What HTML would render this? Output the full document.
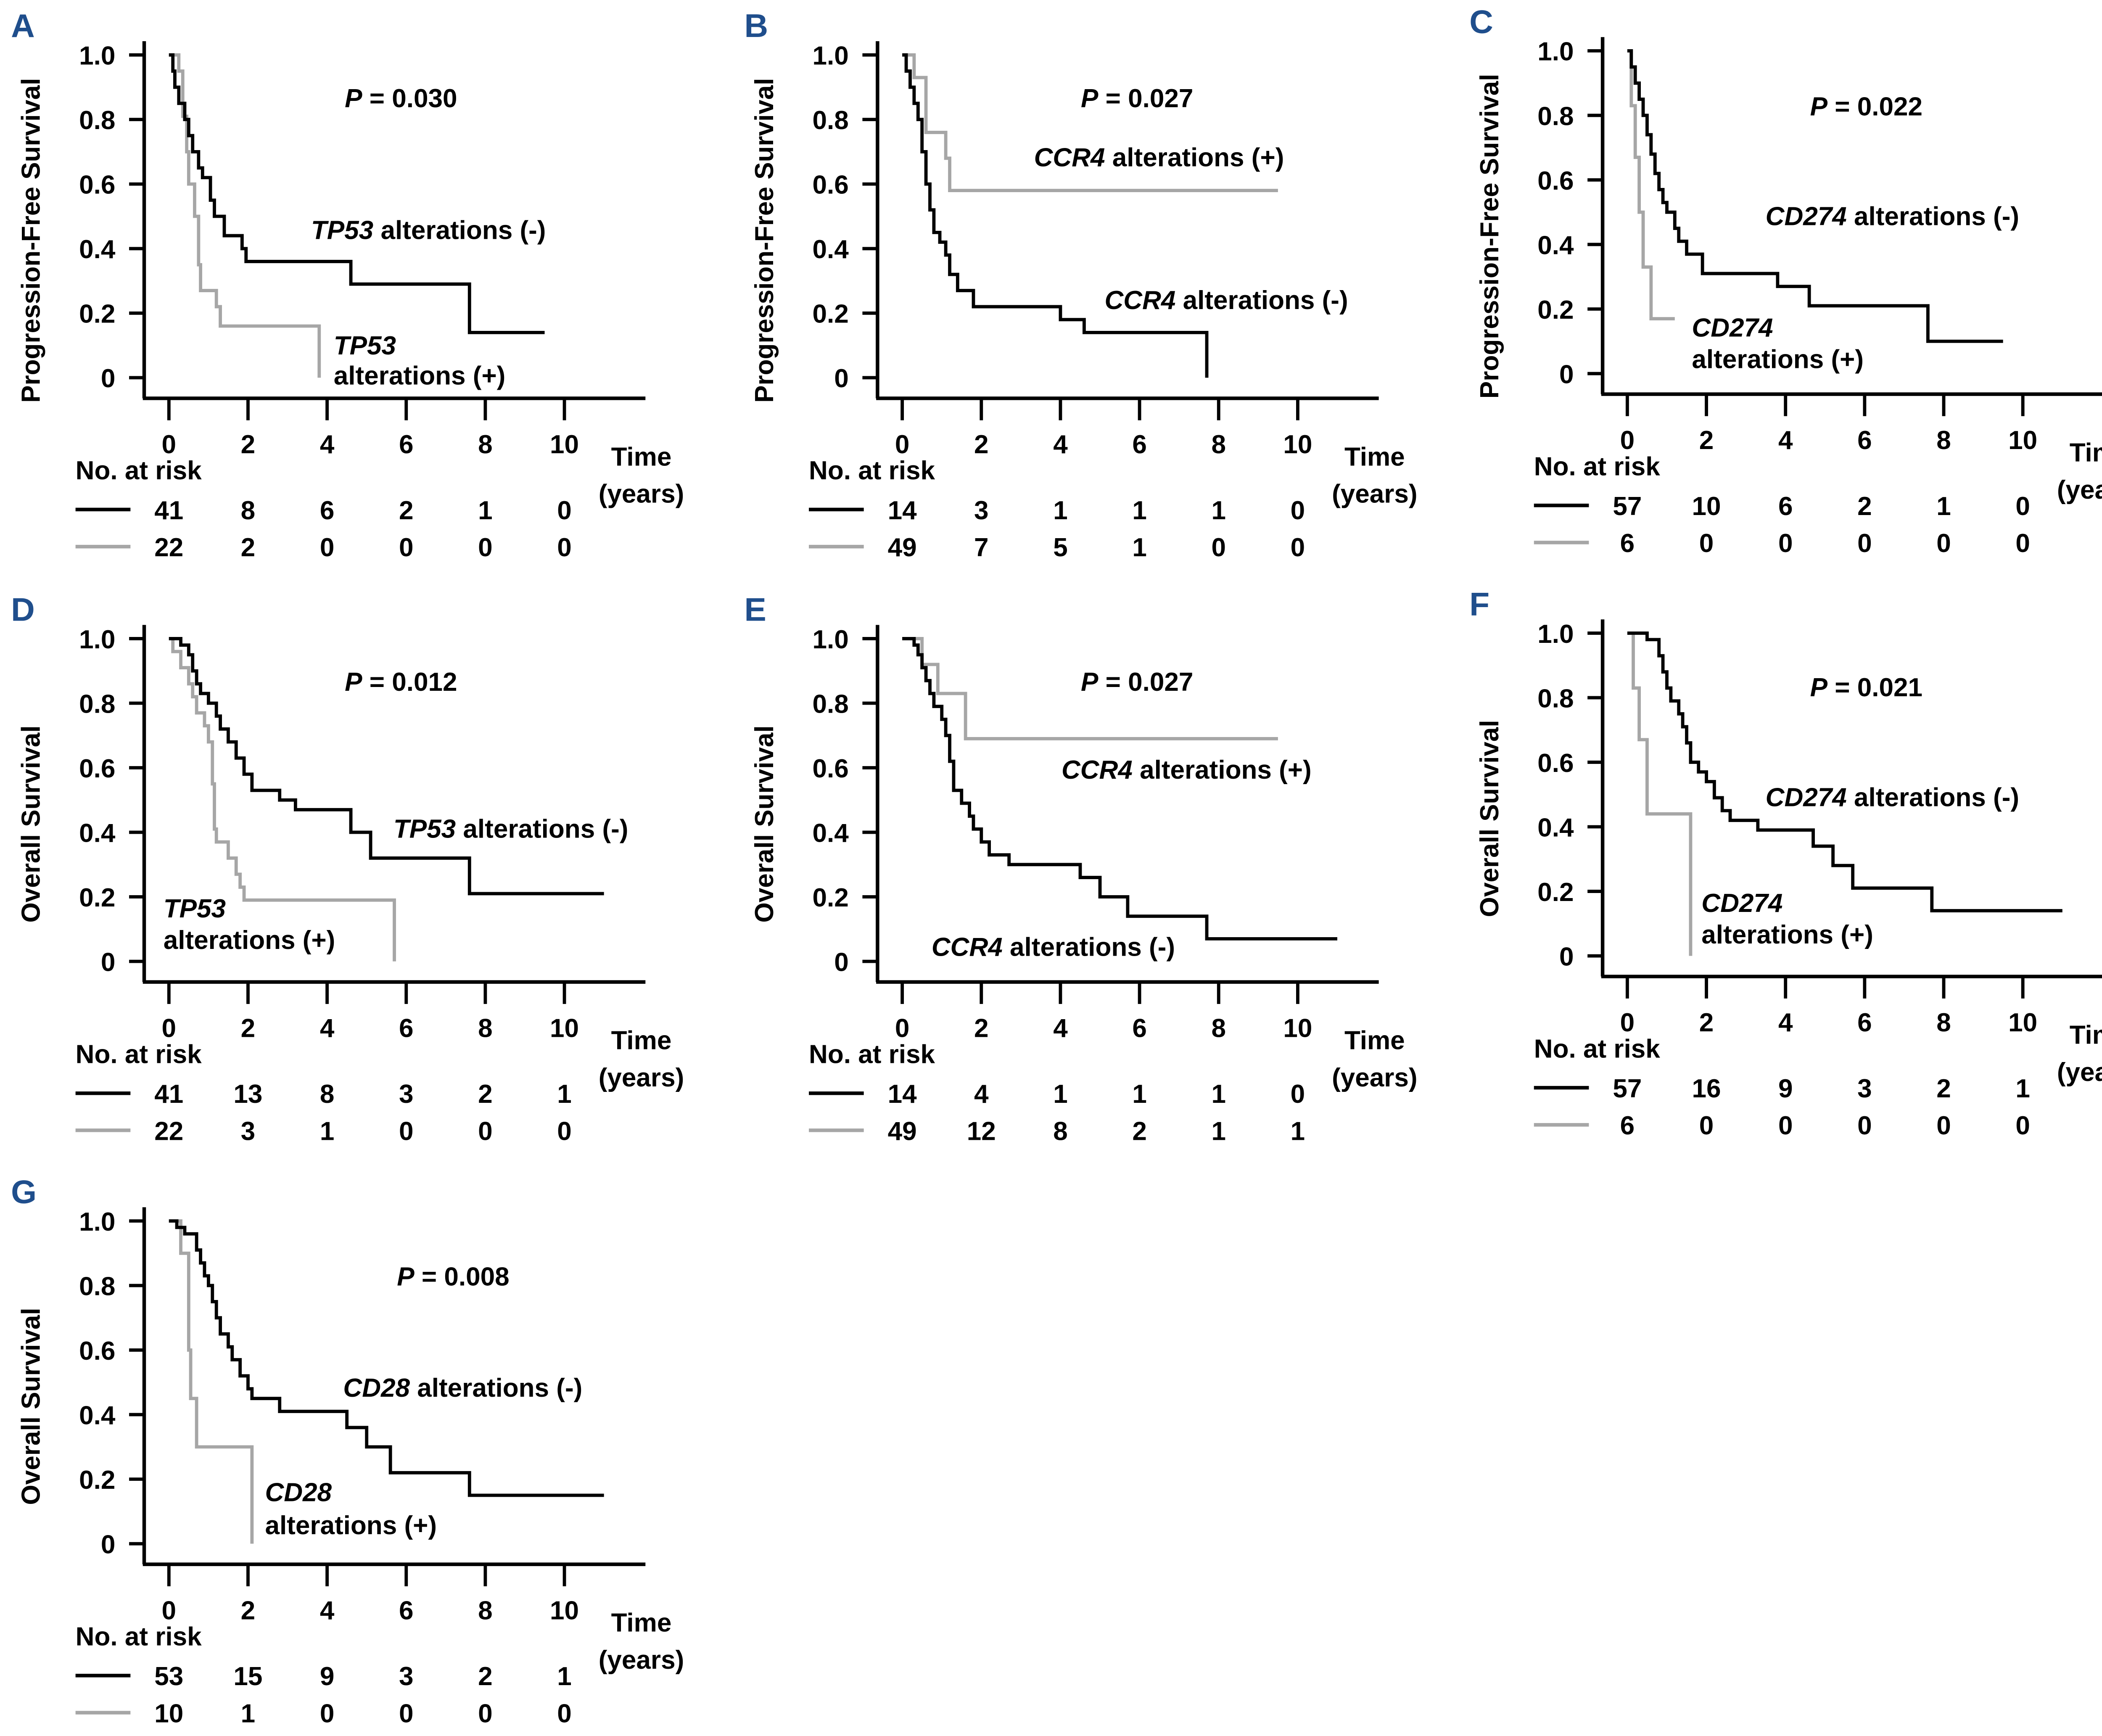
<!DOCTYPE html>
<html><head><meta charset="utf-8"><style>
html,body{margin:0;padding:0;background:#fff;}
svg{display:block;}
text{font-family:"Liberation Sans",sans-serif;font-weight:bold;}
</style></head><body>
<svg id="fig" width="5122" height="4129" viewBox="0 0 1568 1264" xmlns="http://www.w3.org/2000/svg"></svg>
<script>
// ---- data (time in years, survival probability) ----
const aBlackT=[0,0.1,0.15,0.25,0.4,0.5,0.6,0.75,0.85,1.05,1.15,1.4,1.85,1.95,4.6,7.6,9.5];
const aBlackS=[1,0.95,0.9,0.85,0.8,0.75,0.7,0.65,0.62,0.55,0.5,0.44,0.4,0.36,0.29,0.14,0.14];
const aGrayT=[0,0.25,0.35,0.45,0.5,0.65,0.75,0.8,1.2,1.3,3.8];
const aGrayS=[1,0.95,0.81,0.7,0.6,0.5,0.35,0.27,0.22,0.16,0];
const bBlackT=[0,0.1,0.2,0.3,0.4,0.5,0.6,0.7,0.8,0.95,1.1,1.2,1.4,1.8,4.0,4.6,7.7];
const bBlackS=[1,0.95,0.9,0.85,0.8,0.7,0.6,0.52,0.45,0.42,0.38,0.32,0.27,0.22,0.18,0.14,0];
const bGrayT=[0,0.3,0.6,1.1,1.2,9.5];
const bGrayS=[1,0.93,0.76,0.68,0.58,0.58];
const cBlackT=[0,0.1,0.2,0.3,0.4,0.5,0.6,0.7,0.8,0.9,1.0,1.2,1.3,1.5,1.9,3.8,4.6,7.6,9.5];
const cBlackS=[1,0.95,0.9,0.85,0.8,0.74,0.68,0.62,0.57,0.53,0.5,0.45,0.41,0.37,0.31,0.27,0.21,0.1,0.1];
const cGrayT=[0,0.1,0.2,0.3,0.4,0.6,1.2];
const cGrayS=[1,0.83,0.67,0.5,0.33,0.17,0.17];
const dBlackT=[0,0.3,0.5,0.6,0.7,0.8,1.0,1.2,1.3,1.5,1.7,1.9,2.1,2.8,3.2,4.6,5.1,7.6,11];
const dBlackS=[1,0.98,0.95,0.9,0.86,0.83,0.8,0.76,0.72,0.68,0.63,0.58,0.53,0.5,0.47,0.4,0.32,0.21,0.21];
const dGrayT=[0,0.1,0.3,0.5,0.6,0.7,0.9,1.0,1.1,1.15,1.2,1.5,1.7,1.8,1.9,5.7];
const dGrayS=[1,0.96,0.91,0.86,0.82,0.77,0.73,0.68,0.55,0.41,0.37,0.32,0.27,0.23,0.19,0];
const eBlackT=[0,0.3,0.4,0.5,0.6,0.7,0.8,1.0,1.1,1.2,1.3,1.5,1.7,1.8,2.0,2.2,2.7,4.5,5.0,5.7,7.7,11];
const eBlackS=[1,0.98,0.95,0.91,0.87,0.83,0.79,0.75,0.7,0.62,0.53,0.49,0.45,0.41,0.37,0.33,0.3,0.26,0.2,0.14,0.07,0.07];
const eGrayT=[0,0.5,0.9,1.6,9.5];
const eGrayS=[1,0.92,0.83,0.69,0.69];
const fBlackT=[0,0.5,0.8,0.9,1.0,1.1,1.3,1.4,1.5,1.6,1.8,2.0,2.2,2.4,2.6,3.3,4.7,5.2,5.7,7.7,11];
const fBlackS=[1,0.98,0.93,0.88,0.83,0.79,0.75,0.71,0.66,0.6,0.57,0.54,0.49,0.45,0.42,0.39,0.34,0.28,0.21,0.14,0.14];
const fGrayT=[0,0.15,0.3,0.5,1.6];
const fGrayS=[1,0.83,0.67,0.44,0];
const gBlackT=[0,0.2,0.4,0.7,0.8,0.9,1.0,1.1,1.2,1.3,1.5,1.6,1.8,2.0,2.1,2.8,4.5,5.0,5.6,7.6,11];
const gBlackS=[1,0.98,0.96,0.91,0.87,0.83,0.8,0.75,0.7,0.65,0.61,0.57,0.52,0.48,0.45,0.41,0.36,0.3,0.22,0.15,0.15];
const gGrayT=[0,0.3,0.5,0.55,0.7,2.1];
const gGrayS=[1,0.9,0.6,0.45,0.3,0];
const xTicks=[0,2,4,6,8,10];
const yTicks=[0,0.2,0.4,0.6,0.8,1.0];
const yTickLabels=["0","0.2","0.4","0.6","0.8","1.0"];
const riskA=[[41,8,6,2,1,0],[22,2,0,0,0,0]];
const riskB=[[14,3,1,1,1,0],[49,7,5,1,0,0]];
const riskC=[[57,10,6,2,1,0],[6,0,0,0,0,0]];
const riskD=[[41,13,8,3,2,1],[22,3,1,0,0,0]];
const riskE=[[14,4,1,1,1,0],[49,12,8,2,1,1]];
const riskF=[[57,16,9,3,2,1],[6,0,0,0,0,0]];
const riskG=[[53,15,9,3,2,1],[10,1,0,0,0,0]];

const NS="http://www.w3.org/2000/svg";
const svg=document.getElementById('fig');
function el(tag,attrs,parent){const e=document.createElementNS(NS,tag);for(const k in attrs)e.setAttribute(k,attrs[k]);(parent||svg).appendChild(e);return e;}
function txt(parent,x,y,s,size,anchor,name){const t=el('text',{x:x,y:y,'font-size':size,'text-anchor':anchor||'middle'},parent);t.textContent=s;


return t;}

const panels=[
 {id:'a',L:'A',dx:0,dy:0,bt:aBlackT,bs:aBlackS,gt:aGrayT,gs:aGrayS,risk:riskA,yl:'Progression-Free Survival',
  notes:[['P = 0.030',292,78,'middle',1],['TP53| alterations (-)',312,174,'middle'],['TP53|',243,258,'start'],['alterations (+)',243,280,'start']]},
 {id:'b',L:'B',dx:534,dy:0,bt:bBlackT,bs:bBlackS,gt:bGrayT,gs:bGrayS,risk:riskB,yl:'Progression-Free Survival',
  notes:[['P = 0.027',828,78,'middle',1],['CCR4| alterations (+)',844,121,'middle'],['CCR4| alterations (-)',893,225,'middle']]},
 {id:'c',L:'C',dx:1062,dy:-3,bt:cBlackT,bs:cBlackS,gt:cGrayT,gs:cGrayS,risk:riskC,yl:'Progression-Free Survival',
  notes:[['P = 0.022',1359,84,'middle',1],['CD274| alterations (-)',1378,164,'middle'],['CD274|',1232,245,'start'],['alterations (+)',1232,268,'start']]},
 {id:'d',L:'D',dx:0,dy:425,bt:dBlackT,bs:dBlackS,gt:dGrayT,gs:dGrayS,risk:riskD,yl:'Overall Survival',
  notes:[['P = 0.012',292,503,'middle',1],['TP53| alterations (-)',372,610,'middle'],['TP53|',119,668,'start'],['alterations (+)',119,691,'start']]},
 {id:'e',L:'E',dx:534,dy:425,bt:eBlackT,bs:eBlackS,gt:eGrayT,gs:eGrayS,risk:riskE,yl:'Overall Survival',
  notes:[['P = 0.027',828,503,'middle',1],['CCR4| alterations (+)',864,567,'middle'],['CCR4| alterations (-)',767,696,'middle']]},
 {id:'f',L:'F',dx:1062,dy:421,bt:fBlackT,bs:fBlackS,gt:fGrayT,gs:fGrayS,risk:riskF,yl:'Overall Survival',
  notes:[['P = 0.021',1359,507,'middle',1],['CD274| alterations (-)',1378,587,'middle'],['CD274|',1239,664,'start'],['alterations (+)',1239,687,'start']]},
 {id:'g',L:'G',dx:0,dy:849,bt:gBlackT,bs:gBlackS,gt:gGrayT,gs:gGrayS,risk:riskG,yl:'Overall Survival',
  notes:[['P = 0.008',330,936,'middle',1],['CD28| alterations (-)',337,1017,'middle'],['CD28|',193,1093,'start'],['alterations (+)',193,1117,'start']]}
];

panels.forEach(p=>{
  const g=el('g',{});
  
  
  const X=t=>p.dx+123+t*28.8;
  const Y=s=>p.dy+275-s*235;
  // panel letter
  const lt=el('text',{x:p.dx+8,y:p.dy+27,'font-size':24,fill:'#1f4e8c'},g);lt.textContent=p.L;
  
  
  // axes
  const ya=el('line',{x1:p.dx+105,y1:p.dy+30,x2:p.dx+105,y2:p.dy+290,stroke:'#000','stroke-width':2.6},g);
  
  
  const xa=el('line',{x1:p.dx+104,y1:p.dy+290,x2:p.dx+470,y2:p.dy+290,stroke:'#000','stroke-width':2.6},g);
  
  
  yTicks.forEach((v,i)=>{
    el('line',{x1:p.dx+94,y1:Y(v),x2:p.dx+105,y2:Y(v),stroke:'#000','stroke-width':2.4},g);
    txt(g,p.dx+84,Y(v)+7,yTickLabels[i],19,'end','y-tick-label');
  });
  xTicks.forEach(v=>{
    el('line',{x1:X(v),y1:p.dy+290,x2:X(v),y2:p.dy+306,stroke:'#000','stroke-width':2.4},g);
    txt(g,X(v),p.dy+330,String(v),19,'middle','x-tick-label');
  });
  txt(g,p.dx+467,p.dy+339,'Time',19,'middle','x-axis-title');
  txt(g,p.dx+467,p.dy+366,'(years)',19,'middle','x-axis-title-units');
  const yl=txt(g,0,0,p.yl,19,'middle','y-axis-title');
  yl.setAttribute('transform','translate('+(p.dx+29)+','+(p.dy+175)+') rotate(-90)');
  // curves
  [[p.gt,p.gs,'#a6a6a6','curve-alterations-positive'],[p.bt,p.bs,'#000','curve-alterations-negative']].forEach(c=>{
    let d='M'+X(c[0][0])+','+Y(c[1][0]);
    for(let i=1;i<c[0].length;i++){d+=' H'+X(c[0][i])+' V'+Y(c[1][i]);}
    const pa=el('path',{d:d,fill:'none',stroke:c[2],'stroke-width':2.4},g);
    
    
  });
  // annotations
  p.notes.forEach(n=>{
    const t=el('text',{x:n[1],y:n[2],'font-size':19,'text-anchor':n[3]},g);
    
    
    if(n[4]){const a=el('tspan',{'font-style':'italic'},t);a.textContent='P';const b=el('tspan',{},t);b.textContent=' = '+n[0].split('= ')[1];}
    else if(n[0].indexOf('|')>=0){const parts=n[0].split('|');const a=el('tspan',{'font-style':'italic'},t);a.textContent=parts[0];if(parts[1]){const b=el('tspan',{},t);b.textContent=parts[1];}}
    else t.textContent=n[0];
  });
  // risk table
  txt(g,p.dx+55,p.dy+349,'No. at risk',19,'start','risk-table-title');
  p.risk.forEach((row,r)=>{
    const yy=p.dy+371+r*27;
    const ln=el('line',{x1:p.dx+55,y1:yy,x2:p.dx+95,y2:yy,stroke:r?'#a6a6a6':'#000','stroke-width':2.6},g);
    
    
    row.forEach((v,i)=>txt(g,X(xTicks[i]),yy+7,String(v),19,'middle','risk-count'));
  });
});
</script>
</body></html>
